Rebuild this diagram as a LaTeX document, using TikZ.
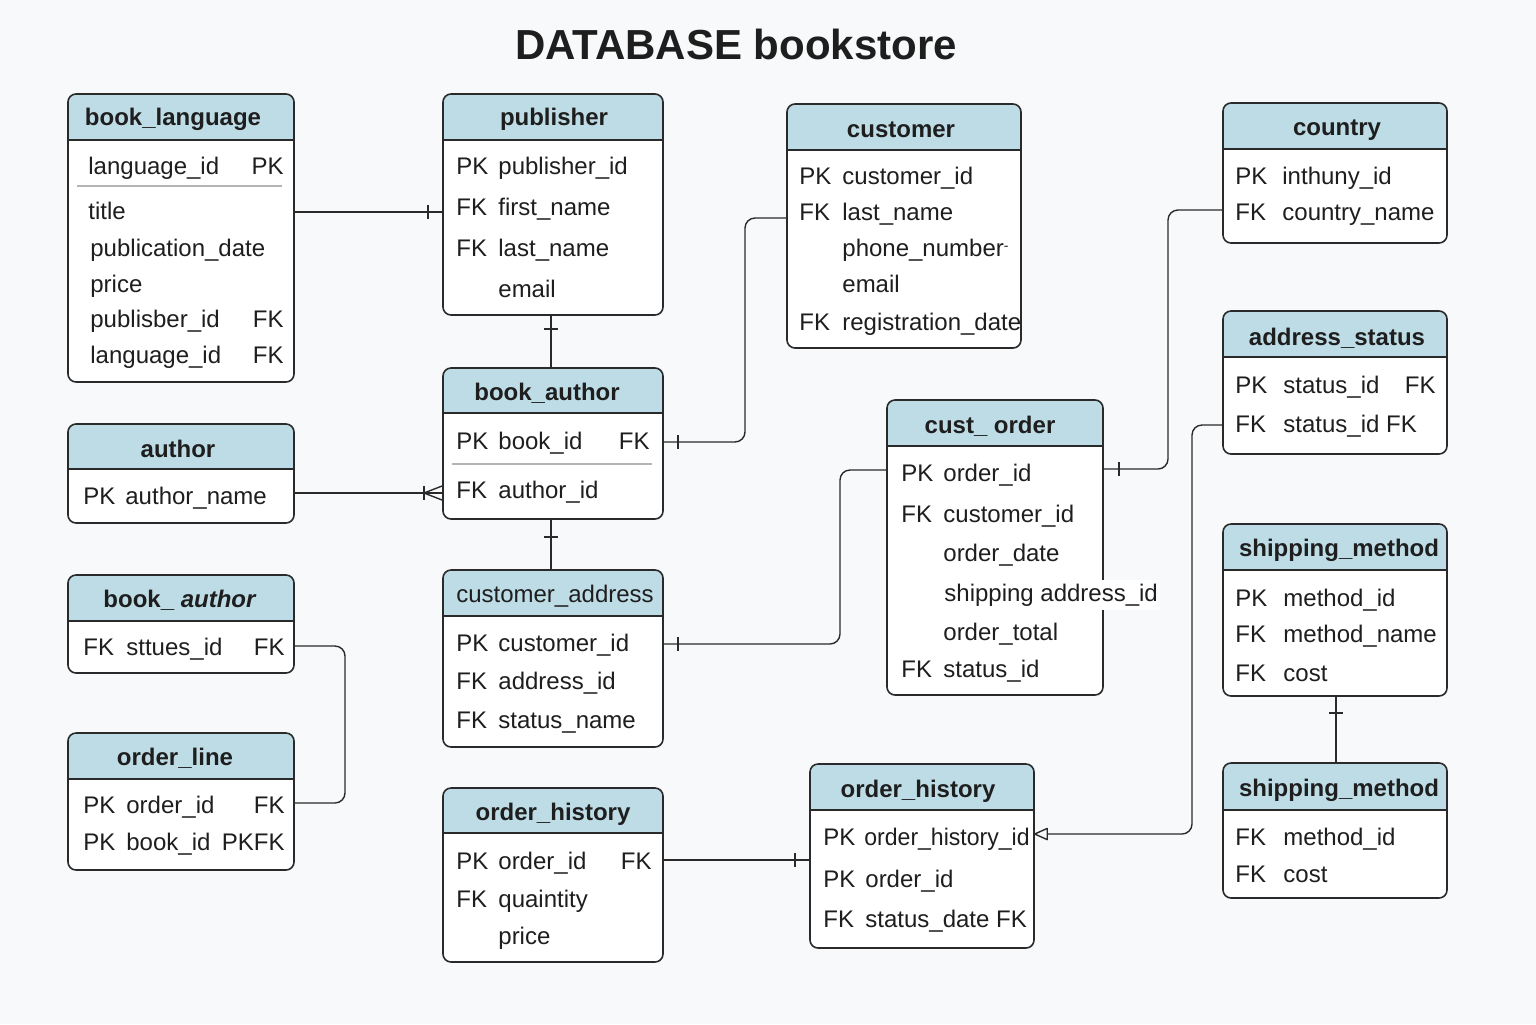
\documentclass[tikz,border=0pt]{standalone}
\usepackage{fontspec}
\setmainfont{Liberation Sans}
\usetikzlibrary{fit,arrows.meta,calc}
\definecolor{bgcol}{HTML}{F8F9FA}
\definecolor{hdrfill}{HTML}{BEDCE6}
\definecolor{bordercol}{HTML}{2A2A2A}
\definecolor{sepcol}{HTML}{B4B4B4}
\definecolor{txtcol}{HTML}{1E1E1E}
\tikzset{
  tbl/.style={draw=bordercol, line width=0.8pt, rounded corners=4pt, inner sep=0pt},
  boxline/.style={draw=bordercol, line width=0.8pt},
  sepline/.style={draw=sepcol, line width=0.9pt},
  fld/.style={anchor=base west, inner sep=0pt, text=txtcol, font=\fontsize{12}{14}\selectfont, yshift=-1pt},
  fldr/.style={anchor=base east, inner sep=0pt, text=txtcol, font=\fontsize{12}{14}\selectfont, yshift=-1pt},
  ttl/.style={inner sep=0pt, text=txtcol, font=\bfseries\fontsize{12}{14}\selectfont, yshift=-1pt},
  conn/.style={draw=bordercol, line width=0.7pt, rounded corners=5pt},
  tickmark/.style={draw=bordercol, line width=0.7pt},
}
\newcommand\erbox[6]{%
  \fill[white,rounded corners=4pt] (#2,#3) rectangle (#4,#5);
  \begin{scope}
    \clip[rounded corners=4pt] (#2,#3) rectangle (#4,#5);
    \fill[hdrfill] (#2,#3) rectangle (#4,#6);
  \end{scope}
  \draw[boxline] (#2,#6) -- (#4,#6);
  \node[tbl, fit={(#2,#3)(#4,#5)}] (#1) {};
}
\newcommand\fl[4]{\node[fld] (#1) at (#2,#3) {#4};}
\newcommand\fr[4]{\node[fldr] (#1) at (#2,#3) {#4};}
\begin{document}
\begin{tikzpicture}[x=0.5pt,y=-0.5pt]
\useasboundingbox (0,0) rectangle (1536,1024);
\fill[bgcol] (0,0) rectangle (1536,1024);

\node[inner sep=0pt, text=txtcol, font=\bfseries\fontsize{21}{24}\selectfont] (title) at (736,44) {DATABASE bookstore};

% ---------- connectors (drawn first, boxes on top) ----------
% book_language -- publisher
\draw[conn] (294,212) coordinate (la) -- (443,212) coordinate (pa);
% publisher -- book_author
\draw[conn] (551,315) coordinate (pb) -- (551,368) coordinate (bt);
% author -- book_author
\draw[conn] (294,493) coordinate (aur) -- (443,493) coordinate (bal);
% book_author -- customer
\draw[conn] (663,442) coordinate (bar) -- (745,442) -- (745,218) -- (787,218) coordinate (cul);
% book_author -- customer_address
\draw[conn] (551,519) coordinate (bab) -- (551,570) coordinate (cat);
% customer_address -- cust_order
\draw[conn] (663,644) coordinate (car) -- (840,644) -- (840,470) -- (887,470) coordinate (col);
% cust_order -- country
\draw[conn] (1103,469) coordinate (cor) -- (1168,469) -- (1168,210) -- (1223,210) coordinate (ctl);
% address_status -- order_history (right)
\draw[conn, -{Triangle[open,length=7.5pt,width=6.5pt,round]}] (1223,425) coordinate (asl) -- (1192,425) -- (1192,834) -- (1034,834) coordinate (ohr);
% order_history -- order_history
\draw[conn] (663,860) coordinate (oh1r) -- (810,860) coordinate (oh2l);
% shipping_method -- shipping_method
\draw[conn] (1336,696) coordinate (sm1b) -- (1336,763) coordinate (sm2t);
% book_ author -- order_line
\draw[conn] (294,646) coordinate (ba2r) -- (345,646) -- (345,803) -- (294,803) coordinate (olr);

% ticks
\draw[tickmark] ($(pa)+(-15,-7)$) -- ($(pa)+(-15,7)$);
\draw[tickmark] ($(pb)+(-7,14)$) -- ($(pb)+(7,14)$);
\draw[tickmark] ($(bal)+(-19,-7)$) -- ($(bal)+(-19,7)$);
\draw[tickmark] ($(bal)+(-19,0)$) -- ($(bal)+(-1,-7)$);
\draw[tickmark] ($(bal)+(-19,0)$) -- ($(bal)+(-1,7)$);
\draw[tickmark] ($(bar)+(15,-7)$) -- ($(bar)+(15,7)$);
\draw[tickmark] ($(bab)+(-7,18)$) -- ($(bab)+(7,18)$);
\draw[tickmark] ($(car)+(15,-7)$) -- ($(car)+(15,7)$);
\draw[tickmark] ($(cor)+(16,-7)$) -- ($(cor)+(16,7)$);
\draw[tickmark] ($(oh2l)+(-15,-7)$) -- ($(oh2l)+(-15,7)$);
\draw[tickmark] ($(sm1b)+(-7,17)$) -- ($(sm1b)+(7,17)$);

% ---------- book_language ----------
\erbox{lang}{68}{94}{294}{382}{140}
\node[ttl] (lang-t) at (173,117) {book\_language};
\fl{lang-1}{88}{172}{language\_id}\fr{lang-1k}{284}{172}{PK}
\draw[sepline] (77,186) -- (282,186);
\fl{lang-2}{88}{217}{title}
\fl{lang-3}{90}{254}{publication\_date}
\fl{lang-4}{90}{290}{price}
\fl{lang-5}{90}{325}{publisber\_id}\fr{lang-5k}{284}{325}{FK}
\fl{lang-6}{90}{361}{language\_id}\fr{lang-6k}{284}{361}{FK}

% ---------- publisher ----------
\erbox{pub}{443}{94}{663}{315}{140}
\node[ttl] (pub-t) at (554,117) {publisher};
\fl{pub-1k}{456}{172}{PK}\fl{pub-1}{498}{172}{publisher\_id}
\fl{pub-2k}{456}{213}{FK}\fl{pub-2}{498}{213}{first\_name}
\fl{pub-3k}{456}{254}{FK}\fl{pub-3}{498}{254}{last\_name}
\fl{pub-4}{498}{295}{email}

% ---------- customer ----------
\erbox{cust}{787}{104}{1021}{348}{150}
\node[ttl] (cust-t) at (901,128) {customer};
\fl{cust-1k}{799}{182}{PK}\fl{cust-1}{842}{182}{customer\_id}
\fl{cust-2k}{799}{218}{FK}\fl{cust-2}{842}{218}{last\_name}
\fl{cust-3}{842}{254}{phone\_number\raisebox{0.45ex}{\fontsize{7}{8}\selectfont -}}
\fl{cust-4}{842}{290}{email}
\fl{cust-5k}{799}{328}{FK}\fl{cust-5}{842}{328}{registration\_date}

% ---------- country ----------
\erbox{country}{1223}{103}{1447}{243}{149}
\node[ttl] (country-t) at (1337,128) {country};
\fl{country-1k}{1235}{182}{PK}\fl{country-1}{1282}{182}{inthuny\_id}
\fl{country-2k}{1235}{218}{FK}\fl{country-2}{1282}{218}{country\_name}

% ---------- address_status ----------
\erbox{ast}{1223}{311}{1447}{454}{357}
\node[ttl] (ast-t) at (1337,336) {address\_status};
\fl{ast-1k}{1235}{391}{PK}\fl{ast-1}{1283}{391}{status\_id}\fr{ast-1r}{1436}{391}{FK}
\fl{ast-2k}{1235}{430}{FK}\fl{ast-2}{1283}{430}{status\_id FK}

% ---------- book_author (middle) ----------
\erbox{ba}{443}{368}{663}{519}{413}
\node[ttl] (ba-t) at (547,391) {book\_author};
\fl{ba-1k}{456}{447}{PK}\fl{ba-1}{498}{447}{book\_id}\fr{ba-1r}{650}{447}{FK}
\draw[sepline] (452,464) -- (652,464);
\fl{ba-2k}{456}{496}{FK}\fl{ba-2}{498}{496}{author\_id}

% ---------- author ----------
\erbox{au}{68}{424}{294}{523}{469}
\node[ttl] (au-t) at (178,447) {author};
\fl{au-1k}{83}{502}{PK}\fl{au-1}{125}{502}{author\_name}

% ---------- book_ author (left) ----------
\erbox{ba2}{68}{575}{294}{673}{621}
\node[ttl] (ba2-t) at (180,598) {book\_ \textit{author}};
\fl{ba2-1k}{83}{653}{FK}\fl{ba2-1}{126}{653}{sttues\_id}\fr{ba2-1r}{285}{653}{FK}

% ---------- order_line ----------
\erbox{ol}{68}{733}{294}{870}{779}
\node[ttl] (ol-t) at (175,756) {order\_line};
\fl{ol-1k}{83}{811}{PK}\fl{ol-1}{126}{811}{order\_id}\fr{ol-1r}{285}{811}{FK}
\fl{ol-2k}{83}{848}{PK}\fl{ol-2}{126}{848}{book\_id}\fr{ol-2r}{285}{848}{PKFK}

% ---------- customer_address ----------
\erbox{ca}{443}{570}{663}{747}{616}
\node[inner sep=0pt, text=txtcol, font=\fontsize{12}{14}\selectfont, yshift=-1pt] (ca-t) at (555,594) {customer\_address};
\fl{ca-1k}{456}{649}{PK}\fl{ca-1}{498}{649}{customer\_id}
\fl{ca-2k}{456}{687}{FK}\fl{ca-2}{498}{687}{address\_id}
\fl{ca-3k}{456}{726}{FK}\fl{ca-3}{498}{726}{status\_name}

% ---------- cust_order ----------
\erbox{co}{887}{400}{1103}{695}{446}
\node[ttl] (co-t) at (990,424) {cust\_ order};
\fl{co-1k}{901}{479}{PK}\fl{co-1}{943}{479}{order\_id}
\fl{co-2k}{901}{520}{FK}\fl{co-2}{943}{520}{customer\_id}
\fl{co-3}{943}{559}{order\_date}
\node[fld, fill=white, inner ysep=2pt, inner xsep=1pt] (co-4) at (942,599) {shipping address\_id};
\fl{co-5}{943}{638}{order\_total}
\fl{co-6k}{901}{675}{FK}\fl{co-6}{943}{675}{status\_id}

% ---------- order_history (middle) ----------
\erbox{oh1}{443}{788}{663}{962}{833}
\node[ttl] (oh1-t) at (553,812) {order\_history};
\fl{oh1-1k}{456}{867}{PK}\fl{oh1-1}{498}{867}{order\_id}\fr{oh1-1r}{652}{867}{FK}
\fl{oh1-2k}{456}{905}{FK}\fl{oh1-2}{498}{905}{quaintity}
\fl{oh1-3}{498}{942}{price}

% ---------- order_history (right) ----------
\erbox{oh2}{810}{764}{1034}{948}{810}
\node[ttl] (oh2-t) at (918,789) {order\_history};
\fl{oh2-1k}{823}{843}{PK}\fl{oh2-1}{864}{843}{\scalebox{0.96}[1]{order\_history\_id}}
\fl{oh2-2k}{823}{885}{PK}\fl{oh2-2}{865}{885}{order\_id}
\fl{oh2-3k}{823}{925}{FK}\fl{oh2-3}{865}{925}{status\_date FK}

% ---------- shipping_method 1 ----------
\erbox{sm1}{1223}{524}{1447}{696}{570}
\node[ttl] (sm1-t) at (1339,548) {shipping\_method};
\fl{sm1-1k}{1235}{604}{PK}\fl{sm1-1}{1283}{604}{method\_id}
\fl{sm1-2k}{1235}{640}{FK}\fl{sm1-2}{1283}{640}{method\_name}
\fl{sm1-3k}{1235}{679}{FK}\fl{sm1-3}{1283}{679}{cost}

% ---------- shipping_method 2 ----------
\erbox{sm2}{1223}{763}{1447}{898}{810}
\node[ttl] (sm2-t) at (1339,788) {shipping\_method};
\fl{sm2-1k}{1235}{843}{FK}\fl{sm2-1}{1283}{843}{method\_id}
\fl{sm2-2k}{1235}{880}{FK}\fl{sm2-2}{1283}{880}{cost}
\end{tikzpicture}
\end{document}
